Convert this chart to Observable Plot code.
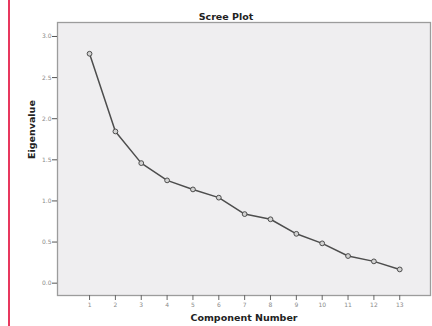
<!DOCTYPE html>
<html>
<head>
<meta charset="utf-8">
<script src="https://cdn.jsdelivr.net/npm/d3@7"></script>
<script src="https://cdn.jsdelivr.net/npm/@observablehq/plot@0.6"></script>
<style>
  html, body { margin: 0; padding: 0; background: #fff; }
  #wrap { position: relative; width: 432px; height: 326px; overflow: hidden; }
  #redline { position: absolute; left: 8px; top: 0; width: 1.6px; height: 326px; background: #e8385e; }
  #chart { position: absolute; left: 0; top: 0; }
</style>
</head>
<body>
<div id="wrap"><div id="redline"></div><div id="chart"></div></div>
<script>
const components = [1, 2, 3, 4, 5, 6, 7, 8, 9, 10, 11, 12, 13];
const eigenvalues = [2.79, 1.845, 1.46, 1.25, 1.14, 1.04, 0.84, 0.777, 0.60, 0.484, 0.33, 0.265, 0.167];
const yTicks = [0, 0.5, 1.0, 1.5, 2.0, 2.5, 3.0];
const xTicks = components;
const title = "Scree Plot";
const xLabel = "Component Number";
const yLabel = "Eigenvalue";

const data = components.map((c, i) => ({component: c, eigenvalue: eigenvalues[i]}));

const font = "DejaVu Sans, sans-serif";

const chart = Plot.plot({
  width: 432,
  height: 326,
  marginLeft: 57,
  marginRight: 2,
  marginTop: 22,
  marginBottom: 31,
  style: {fontFamily: font, background: "transparent", overflow: "visible"},
  x: {domain: [-0.24, 14.19], label: null},
  y: {domain: [-0.15, 3.17], label: null},
  marks: [
    Plot.frame({fill: "#efeef0", stroke: "#9c9c9c", strokeWidth: 1.3}),
    Plot.axisY({ticks: yTicks, tickFormat: d3.format(".1f"), tickSize: 5, tickPadding: 1, fontSize: 6, color: "#8a8a8a", stroke: "#555", label: null}),
    Plot.axisX({ticks: xTicks, tickFormat: d3.format("d"), tickSize: 5, tickPadding: 2, fontSize: 6, color: "#8a8a8a", stroke: "#666", label: null}),
    Plot.line(data, {x: "component", y: "eigenvalue", stroke: "#4d4d4d", strokeWidth: 1.5}),
    Plot.dot(data, {x: "component", y: "eigenvalue", r: 2.4, stroke: "#4d4d4d", fill: "#d2d2d2", strokeWidth: 1}),
    Plot.text([title], {frameAnchor: "top", dy: -9, dx: -18, fontSize: 9.5, fontWeight: "bold", fill: "#222"}),
    Plot.text([xLabel], {frameAnchor: "bottom", dy: 25, fontSize: 9.5, fontWeight: "bold", fill: "#222"}),
    Plot.text([yLabel], {frameAnchor: "left", dx: -26, rotate: -90, fontSize: 9.5, fontWeight: "bold", fill: "#222"})
  ]
});
document.getElementById("chart").appendChild(chart);
</script>
</body>
</html>
